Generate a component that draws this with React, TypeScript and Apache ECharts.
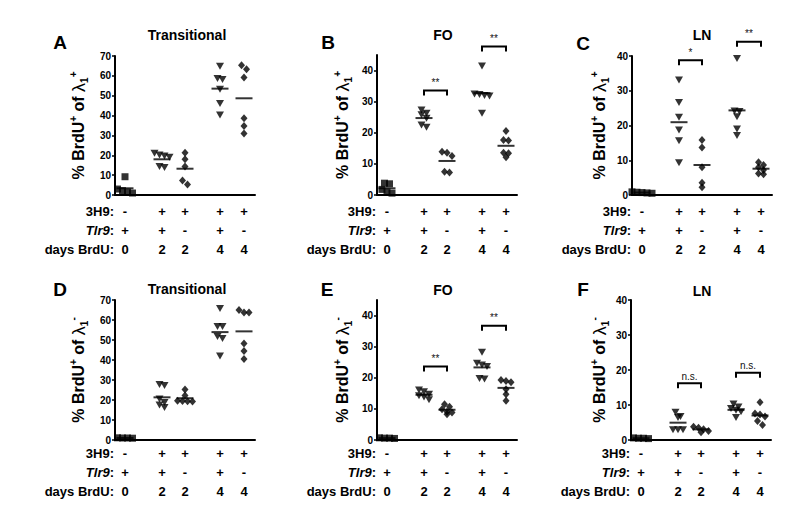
import React, { useEffect, useRef } from "react";
import * as echarts from "echarts";

const FONT = '"Liberation Sans", Arial, Helvetica, sans-serif';

// Row headers and column labels under each panel
const rowHeaders = ["3H9:", "Tlr9:", "days BrdU:"];
const row3H9 = ["-", "+", "+", "+", "+"];
const rowTlr9 = ["+", "+", "-", "+", "-"];
const rowDays = ["0", "2", "2", "4", "4"];
const groupSymbols = ["rect", "triangle", "diamond", "triangle", "diamond"];

// Tick values
const ticks70 = [0, 10, 20, 30, 40, 50, 60, 70];
const ticks40 = [0, 10, 20, 30, 40];

// Panel A: Transitional, lambda1+
const transPos: number[][] = [
  [9.2, 3.0, 2.2, 1.0, 1.5],
  [21.0, 20.1, 19.6, 19.0, 14.3, 13.9],
  [21.3, 18.0, 14.3, 7.3, 5.3],
  [64.9, 58.7, 58.2, 53.2, 46.1, 40.3],
  [65.4, 63.3, 59.2, 38.6, 34.7, 31.0],
];
// Panel B: FO, lambda1+
const foPos: number[][] = [
  [3.8, 3.6, 1.8, 1.0, 0.6],
  [27.3, 26.3, 25.8, 24.7, 22.5, 21.8],
  [13.9, 13.6, 12.5, 7.5, 7.2],
  [41.5, 32.5, 32.3, 32.0, 31.8, 26.3],
  [20.6, 17.7, 17.5, 13.6, 13.4, 12.1],
];
// Panel C: LN, lambda1+
const lnPos: number[][] = [
  [0.9, 0.8, 0.7, 0.6, 0.5],
  [33.1, 26.6, 22.4, 18.7, 15.6, 9.3],
  [15.8, 13.7, 8.0, 3.5, 2.2],
  [39.3, 24.2, 24.0, 22.5, 19.0, 17.1],
  [9.4, 8.6, 8.0, 7.2, 6.2, 6.0],
];
// Panel D: Transitional, lambda1-
const transNeg: number[][] = [
  [1.0, 1.1, 0.9, 1.0],
  [27.8, 27.2, 20.5, 18.8, 17.5, 16.2],
  [25.3, 22.2, 19.6, 19.5, 19.4, 19.3],
  [65.8, 56.7, 56.7, 51.7, 50.8, 42.0],
  [65.0, 63.8, 63.8, 48.3, 44.5, 40.5],
];
// Panel E: FO, lambda1-
const foNeg: number[][] = [
  [0.6, 0.7, 0.5, 0.6],
  [16.1, 15.5, 14.7, 14.2, 13.8, 12.9],
  [11.5, 10.7, 9.9, 9.1, 8.3, 8.8],
  [28.2, 24.7, 24.1, 23.6, 19.8, 19.6],
  [19.3, 19.0, 18.6, 16.3, 14.7, 12.6],
];
// Panel F: LN, lambda1-
const lnNeg: number[][] = [
  [0.5, 0.6, 0.4, 0.5],
  [7.9, 6.7, 6.4, 2.9, 2.9, 2.9],
  [3.8, 3.5, 3.1, 2.6, 2.2],
  [10.3, 9.4, 9.0, 8.5, 8.1, 6.4],
  [10.8, 7.6, 7.3, 6.7, 5.4, 4.3],
];

// Significance brackets: groups compared, bracket height (axis units), label
const bracketsB = [
  { from: 1, to: 2, h: 33.6, label: "**" },
  { from: 3, to: 4, h: 47.7, label: "**" },
];
const bracketsC = [
  { from: 1, to: 2, h: 38.8, label: "*" },
  { from: 3, to: 4, h: 44.1, label: "**" },
];
const bracketsE = [
  { from: 1, to: 2, h: 23.6, label: "**" },
  { from: 3, to: 4, h: 36.7, label: "**" },
];
const bracketsF = [
  { from: 1, to: 2, h: 16.2, label: "n.s." },
  { from: 3, to: 4, h: 19.2, label: "n.s." },
];

// Layout constants
const PLOT_W = 140;
const COL_X = [10, 47, 70, 105, 129];
const LINE_H = 19;

const panels = [
  { letter: "A", title: "Transitional", sign: "+", values: transPos, yMax: 70, ticks: ticks70, brackets: [] as any[],
    left: 115, top: 56, height: 139, labelMargin: 6.5, nameGap: 26, letterX: 60, letterY: 42, titleX: 187, titleY: 35 },
  { letter: "B", title: "FO", sign: "+", values: foPos, yMax: 45, ticks: ticks40, brackets: bracketsB,
    left: 377, top: 55, height: 140, labelMargin: 6.5, nameGap: 24, letterX: 328, letterY: 42, titleX: 443, titleY: 35 },
  { letter: "C", title: "LN", sign: "+", values: lnPos, yMax: 40, ticks: ticks40, brackets: bracketsC,
    left: 632, top: 56, height: 139, labelMargin: 6.5, nameGap: 22, letterX: 583, letterY: 43, titleX: 702, titleY: 35 },
  { letter: "D", title: "Transitional", sign: "-", values: transNeg, yMax: 70, ticks: ticks70, brackets: [] as any[],
    left: 115, top: 300, height: 140, labelMargin: 3.5, nameGap: 26, letterX: 60, letterY: 289, titleX: 187, titleY: 289 },
  { letter: "E", title: "FO", sign: "-", values: foNeg, yMax: 45, ticks: ticks40, brackets: bracketsE,
    left: 377, top: 300, height: 140, labelMargin: 3.5, nameGap: 24, letterX: 327, letterY: 289, titleX: 443, titleY: 290 },
  { letter: "F", title: "LN", sign: "-", values: lnNeg, yMax: 40, ticks: ticks40, brackets: bracketsF,
    left: 631, top: 300, height: 140, labelMargin: 3.5, nameGap: 21, letterX: 583, letterY: 289, titleX: 702, titleY: 291 },
];

const mean = (a: number[]) => a.reduce((s, v) => s + v, 0) / a.length;

// Prism-like horizontal spreading: points within minDy pixels form a row, centred on the column.
function swarm(vals: number[], pxPerUnit: number, step = 5, minDy = 4.5): number[] {
  const order = vals.map((_, i) => i).sort((a, b) => vals[b] - vals[a]);
  const out = new Array(vals.length).fill(0);
  let row: number[] = [];
  const flush = () => {
    row.forEach((idx, j) => {
      out[idx] = (j - (row.length - 1) / 2) * step;
    });
    row = [];
  };
  let rowY = 0;
  for (const i of order) {
    const y = vals[i] * pxPerUnit;
    if (row.length && Math.abs(rowY - y) >= minDy) flush();
    if (!row.length) rowY = y;
    row.push(i);
  }
  flush();
  return out;
}

function buildOption() {
  const grid: any[] = [];
  const xAxis: any[] = [];
  const yAxis: any[] = [];
  const series: any[] = [];
  const graphic: any[] = [];

  panels.forEach((p, k) => {
    grid.push({ left: p.left, top: p.top, width: PLOT_W, height: p.height });
    xAxis.push({
      gridIndex: k,
      type: "value",
      min: 0,
      max: PLOT_W,
      axisLine: { show: true, onZero: false, lineStyle: { color: "#000", width: 2 } },
      axisTick: { show: false },
      splitLine: { show: false },
      axisLabel: {
        customValues: COL_X,
        margin: p.labelMargin,
        color: "#000",
        fontFamily: FONT,
        fontWeight: "bold",
        fontSize: 13,
        lineHeight: LINE_H,
        formatter: (v: number) => {
          const i = COL_X.indexOf(v);
          if (i < 0) return "";
          return `${row3H9[i]}\n${rowTlr9[i]}\n${rowDays[i]}`;
        },
      },
    });
    yAxis.push({
      gridIndex: k,
      type: "value",
      min: 0,
      max: p.yMax,
      interval: 10,
      axisLine: { show: true, lineStyle: { color: "#000", width: 2 } },
      axisTick: { show: true, length: 3, customValues: p.ticks, lineStyle: { color: "#000", width: 1.5 } },
      splitLine: { show: false },
      axisLabel: {
        customValues: p.ticks,
        margin: 4,
        color: "#000",
        fontFamily: FONT,
        fontWeight: "bold",
        fontSize: 10,
      },
      name: `{m|% BrdU}{sup|+}{m| of }{lam|λ}{sub|1}{sup|${p.sign}}`,
      nameLocation: "middle",
      nameRotate: 90,
      nameGap: p.nameGap,
      nameTextStyle: {
        fontFamily: FONT,
        fontWeight: "bold",
        fontSize: 16,
        color: "#000",
        rich: {
          m: { fontFamily: FONT, fontWeight: "bold", fontSize: 16, color: "#000", lineHeight: 21 },
          lam: { fontFamily: FONT, fontWeight: "normal", fontSize: 18, color: "#000", lineHeight: 21 },
          sup: { fontFamily: FONT, fontWeight: "bold", fontSize: 10, color: "#000", verticalAlign: "top", lineHeight: 11 },
          sub: { fontFamily: FONT, fontWeight: "bold", fontSize: 10, color: "#000", verticalAlign: "bottom", lineHeight: 11 },
        },
      },
    });

    const pxPerUnit = p.height / p.yMax;
    p.values.forEach((vals, c) => {
      const offs = swarm(vals, pxPerUnit);
      const sym = groupSymbols[c];
      series.push({
        type: "scatter",
        xAxisIndex: k,
        yAxisIndex: k,
        clip: false,
        silent: true,
        symbol: sym,
        symbolRotate: sym === "triangle" ? 180 : 0,
        symbolSize: sym === "triangle" ? [8, 7] : sym === "diamond" ? [7, 8] : [7, 7],
        itemStyle: { color: "#000" },
        data: vals.map((v, i) => [COL_X[c] + offs[i], v]),
      });
    });
    // mean lines
    series.push({
      type: "scatter",
      xAxisIndex: k,
      yAxisIndex: k,
      clip: false,
      silent: true,
      symbol: "rect",
      symbolSize: [17, 2],
      itemStyle: { color: "#000" },
      data: p.values.map((vals, c) => [COL_X[c], mean(vals)]),
    });
    // brackets
    if (p.brackets.length) {
      const br = p.brackets;
      series.push({
        type: "custom",
        xAxisIndex: k,
        yAxisIndex: k,
        clip: false,
        silent: true,
        encode: { x: [0, 2], y: 1 },
        data: br.map((b: any) => [COL_X[b.from], b.h, COL_X[b.to]]),
        renderItem: (params: any, api: any) => {
          const b = br[params.dataIndex];
          const p1 = api.coord([COL_X[b.from], b.h]);
          const p2 = api.coord([COL_X[b.to], b.h]);
          const ns = b.label === "n.s.";
          return {
            type: "group",
            children: [
              {
                type: "polyline",
                shape: {
                  points: [
                    [p1[0], p1[1] + 5],
                    [p1[0], p1[1]],
                    [p2[0], p2[1]],
                    [p2[0], p2[1] + 5],
                  ],
                },
                style: { stroke: "#000", lineWidth: 2, fill: null },
              },
              {
                type: "text",
                x: (p1[0] + p2[0]) / 2,
                y: p1[1] - (ns ? 2 : 3),
                style: {
                  text: b.label,
                  align: "center",
                  verticalAlign: "bottom",
                  fontFamily: FONT,
                  fontSize: ns ? 10 : 10,
                  fill: "#111",
                },
              },
            ],
          };
        },
      });
    }

    // panel letter and title
    graphic.push({
      type: "text",
      x: p.letterX,
      y: p.letterY,
      style: { text: p.letter, align: "center", verticalAlign: "middle", fontFamily: FONT, fontWeight: "bold", fontSize: 19, fill: "#000" },
    });
    graphic.push({
      type: "text",
      x: p.titleX,
      y: p.titleY,
      style: { text: p.title, align: "center", verticalAlign: "middle", fontFamily: FONT, fontWeight: "bold", fontSize: 14, fill: "#000" },
    });
    // row headers
    const firstY = p.top + p.height + p.labelMargin + LINE_H / 2;
    rowHeaders.forEach((h, r) => {
      const text = h === "Tlr9:" ? "{i|Tlr9}{n|:}" : h;
      graphic.push({
        type: "text",
        x: p.left - 1,
        y: firstY + r * LINE_H,
        style: {
          text,
          align: "right",
          verticalAlign: "middle",
          fontFamily: FONT,
          fontWeight: "bold",
          fontSize: 13,
          fill: "#000",
          rich: {
            i: { fontFamily: FONT, fontWeight: "bold", fontStyle: "italic", fontSize: 13, fill: "#000" },
            n: { fontFamily: FONT, fontWeight: "bold", fontSize: 13, fill: "#000" },
          },
        },
      });
    });
  });

  return {
    animation: false,
    backgroundColor: "#fff",
    textStyle: { fontFamily: FONT },
    grid,
    xAxis,
    yAxis,
    series,
    graphic,
  };
}

export default function App() {
  const ref = useRef<HTMLDivElement>(null);
  useEffect(() => {
    if (!ref.current) return;
    const chart = echarts.init(ref.current, undefined, { renderer: "svg" });
    chart.setOption(buildOption() as any);
    return () => chart.dispose();
  }, []);
  return (
    <div
      ref={ref}
      style={{ position: "fixed", left: 0, top: 0, width: 800, height: 527, background: "#fff" }}
    />
  );
}
